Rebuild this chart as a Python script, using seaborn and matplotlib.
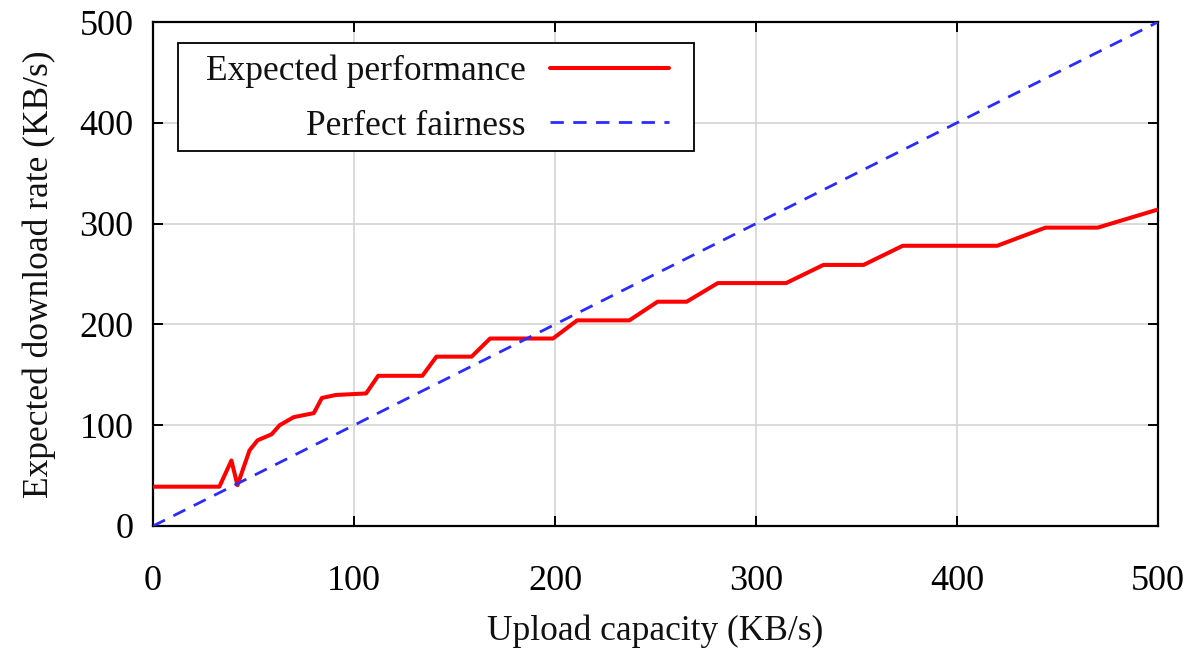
import pandas as pd
import matplotlib
matplotlib.use("Agg")
import matplotlib.pyplot as plt
from matplotlib.patches import Rectangle
import seaborn as sns

# values
upload = [0, 33, 39, 42, 48, 52, 59, 63, 70, 80, 84, 91, 106, 112, 134, 141,
          158.5, 167.7, 199, 211, 237, 251, 265.5, 281, 315, 333.5, 353.5,
          373, 420, 444, 470, 500]
expected = [39, 39, 65, 40.5, 75, 85, 91, 100, 108, 112, 127, 130, 131.5, 149,
            149, 168, 168, 186, 186, 204, 204, 222.5, 222.5, 241, 241, 259,
            259, 278, 278, 296, 296, 314]
fair_x = [0, 500]
fair_y = [0, 500]
ticks = [0, 100, 200, 300, 400, 500]

sns.set_theme(style="ticks")
plt.rcParams['font.family'] = ['Liberation Serif', 'DejaVu Serif']

df_exp = pd.DataFrame({"upload": upload, "rate": expected})
df_fair = pd.DataFrame({"upload": fair_x, "rate": fair_y})

fig = plt.figure(figsize=(11.9, 6.57), dpi=100)
ax = fig.add_axes([0.1286, 0.1994, 0.8445, 0.7671])

sns.lineplot(data=df_exp, x="upload", y="rate", ax=ax, color="#ff0000",
             lw=2.9, sort=False, estimator=None, label="Expected performance",
             zorder=3)
sns.lineplot(data=df_fair, x="upload", y="rate", ax=ax, color="#2b2bff",
             lw=2.0, sort=False, estimator=None, label="Perfect fairness",
             dashes=False, zorder=3)
ax.lines[-1].set_dashes((4.8, 3.4))

ax.set_xlim(0, 500)
ax.set_ylim(0, 500)
ax.set_xticks(ticks)
ax.set_yticks(ticks)
ax.grid(True, color="#d4d4d4", lw=1.2)
ax.set_axisbelow(True)
for s in ax.spines.values():
    s.set_color("black")
    s.set_linewidth(1.6)
ax.tick_params(direction="in", length=7, width=1.4, top=True, right=True,
               labelsize=26, colors="black")
ax.tick_params(axis="x", pad=28)
ax.tick_params(axis="y", pad=14)

ax.set_xlabel("Upload capacity (KB/s)", fontsize=25.5, labelpad=12,
              color="#111111")
ax.set_ylabel("Expected download rate (KB/s)", fontsize=25.5, labelpad=17,
              color="#111111")

# legend box drawn separately (gnuplot-style: wide side padding)
ax.add_patch(Rectangle((0.0249, 0.744), 0.5134, 0.214, transform=ax.transAxes,
                       facecolor="white", edgecolor="black", lw=1.3,
                       zorder=4))
leg = ax.legend(loc="upper right", bbox_to_anchor=(0.5134, 0.935),
                markerfirst=False, frameon=False, fontsize=25.5,
                handlelength=3.36, handletextpad=0.68, labelspacing=0.61,
                borderpad=0, borderaxespad=0)
leg.set_zorder(5)
for t in leg.get_texts():
    t.set_color("#111111")

fig.savefig("out.png", dpi=100)
